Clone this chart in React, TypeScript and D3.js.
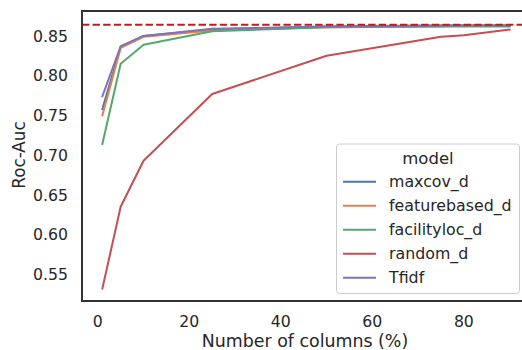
import { useEffect, useRef } from "react";
import * as d3 from "d3";

// percent of columns used
const columns = [1, 5, 10, 25, 50, 75, 80, 90];

const maxcov = [0.758, 0.836, 0.85, 0.858, 0.862, 0.863, 0.863, 0.863];
const featurebased = [0.75, 0.835, 0.849, 0.857, 0.861, 0.862, 0.863, 0.863];
const facilityloc = [0.714, 0.815, 0.839, 0.856, 0.861, 0.862, 0.862, 0.862];
const randomD = [0.532, 0.635, 0.693, 0.777, 0.825, 0.849, 0.851, 0.858];
const tfidf = [0.774, 0.837, 0.85, 0.859, 0.862, 0.863, 0.863, 0.863];

const baseline = 0.864;

const modelNames = ["maxcov_d", "featurebased_d", "facilityloc_d", "random_d", "Tfidf"];
const modelColors = ["#4c72b0", "#dd8452", "#55a868", "#c44e52", "#8172b3"];

const xTicks = [0, 20, 40, 60, 80];
const yTicks = [0.55, 0.6, 0.65, 0.7, 0.75, 0.8, 0.85];

function App() {
    const svgRef = useRef<SVGSVGElement | null>(null);

    useEffect(() => {
        if (!svgRef.current) return;

        const width = 522;
        const height = 350;
        const font = "DejaVu Sans, sans-serif";
        const ink = "#262626";

        const left = 82;
        const right = 530;
        const top = 11;
        const bottom = 301;

        const svg = d3.select(svgRef.current);
        svg.selectAll("*").remove();
        svg.attr("width", width).attr("height", height);

        svg.append("rect")
            .attr("width", width)
            .attr("height", height)
            .attr("fill", "#ffffff");

        // same padding as matplotlib's 5% margins
        const xScale = d3.scaleLinear().domain([-3.45, 94.45]).range([left, right]);
        const yScale = d3.scaleLinear().domain([0.5164, 0.8814]).range([bottom, top]);

        const series = [maxcov, featurebased, facilityloc, randomD, tfidf];

        const line = d3.line<number>()
            .x((d, i) => xScale(columns[i]))
            .y(d => yScale(d));

        const g = svg.append("g");

        series.forEach((values, i) => {
            g.append("path")
                .datum(values)
                .attr("fill", "none")
                .attr("stroke", modelColors[i])
                .attr("stroke-width", 2)
                .attr("stroke-linejoin", "round")
                .attr("stroke-linecap", "square")
                .attr("d", line);
        });

        // reference line
        g.append("line")
            .attr("x1", left)
            .attr("x2", right)
            .attr("y1", yScale(baseline))
            .attr("y2", yScale(baseline))
            .attr("stroke", "#b22222")
            .attr("stroke-width", 2)
            .attr("stroke-dasharray", "7.4,3.2");

        // frame
        svg.append("rect")
            .attr("x", left)
            .attr("y", top)
            .attr("width", right - left)
            .attr("height", bottom - top)
            .attr("fill", "none")
            .attr("stroke", "#333333")
            .attr("stroke-width", 2);

        // tick labels
        svg.append("g")
            .selectAll("text")
            .data(xTicks)
            .join("text")
            .attr("x", d => xScale(d))
            .attr("y", 327)
            .attr("text-anchor", "middle")
            .style("font-family", font)
            .style("font-size", "15.7px")
            .style("fill", ink)
            .text(d => String(d));

        svg.append("g")
            .selectAll("text")
            .data(yTicks)
            .join("text")
            .attr("x", 68)
            .attr("y", d => yScale(d))
            .attr("dy", "0.36em")
            .attr("text-anchor", "end")
            .style("font-family", font)
            .style("font-size", "15.7px")
            .style("fill", ink)
            .text(d => d.toFixed(2));

        // axis labels
        svg.append("text")
            .attr("x", 305)
            .attr("y", 346.5)
            .attr("text-anchor", "middle")
            .style("font-family", font)
            .style("font-size", "17.4px")
            .style("fill", ink)
            .text("Number of columns (%)");

        svg.append("text")
            .attr("transform", "translate(25, 155) rotate(-90)")
            .attr("text-anchor", "middle")
            .style("font-family", font)
            .style("font-size", "16.8px")
            .style("fill", ink)
            .text("Roc-Auc");

        // legend
        const legend = svg.append("g");
        legend.append("rect")
            .attr("x", 336.5)
            .attr("y", 144)
            .attr("width", 183)
            .attr("height", 149.5)
            .attr("rx", 3)
            .attr("fill", "#ffffff")
            .attr("fill-opacity", 0.8)
            .attr("stroke", "#cccccc")
            .attr("stroke-width", 1);

        legend.append("text")
            .attr("x", 428)
            .attr("y", 158)
            .attr("dy", "0.36em")
            .attr("text-anchor", "middle")
            .style("font-family", font)
            .style("font-size", "16.5px")
            .style("fill", ink)
            .text("model");

        const rowY = d3.scalePoint<string>().domain(modelNames).range([181.7, 277.7]);

        modelNames.forEach((name, i) => {
            const y = rowY(name) ?? 0;
            legend.append("line")
                .attr("x1", 343)
                .attr("x2", 376)
                .attr("y1", y)
                .attr("y2", y)
                .attr("stroke", modelColors[i])
                .attr("stroke-width", 2);
            legend.append("text")
                .attr("x", 389)
                .attr("y", y)
                .attr("dy", "0.36em")
                .style("font-family", font)
                .style("font-size", "15.8px")
                .style("fill", ink)
                .text(name);
        });
    }, []);

    return (
        <svg ref={svgRef} style={{ position: "absolute", left: 0, top: 0, display: "block" }}></svg>
    );
}

export default App;
